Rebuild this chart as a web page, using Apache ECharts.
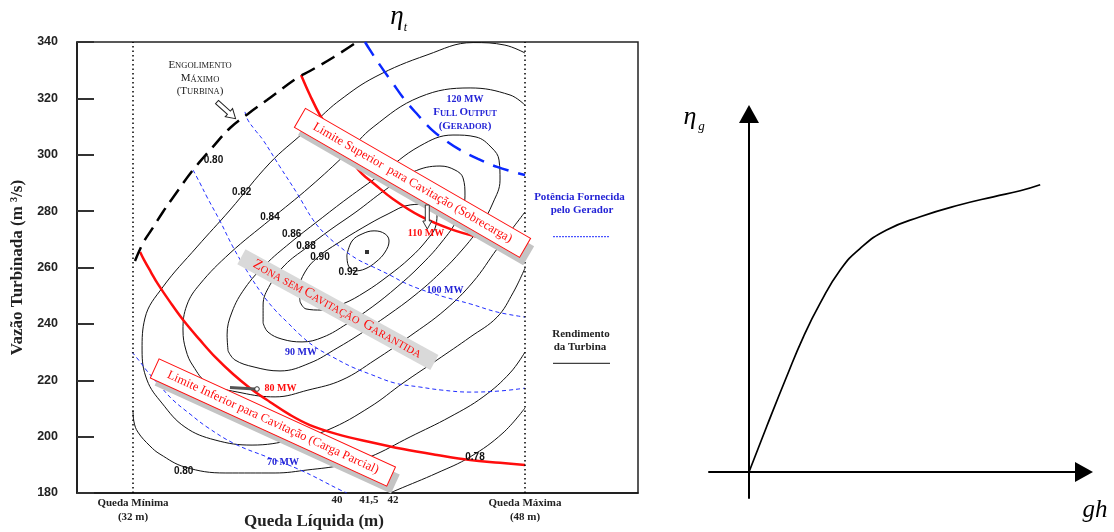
<!DOCTYPE html>
<html>
<head>
<meta charset="utf-8">
<title>Diagrama de colina</title>
<script src="https://cdn.jsdelivr.net/npm/echarts@6.0.0/dist/echarts.min.js"></script>
<style>
html,body{margin:0;padding:0;background:#ffffff;}
#chart{width:1114px;height:532px;}
</style>
</head>
<body>
<div id="chart"></div>
<script>
// ---------------- DATA (Queda Líquida H [m], Vazão Turbinada Q [m3/s]) ----------------
const eff92 = [[40.73,264.4],[40.94,269.4],[41.35,271.9],[41.84,273.0],[42.29,271.9],[42.45,269.4],[42.29,265.5],[41.92,262.0],[41.47,259.5],[41.06,258.8],[40.78,260.9],[40.73,264.4]];
const eff90 = [[38.82,247.8],[38.78,252.0],[39.02,258.4],[39.55,263.7],[40.37,268.7],[41.35,274.0],[42.41,279.0],[43.31,282.2],[44.04,282.5],[44.41,279.7],[44.37,275.1],[44.0,269.8],[43.31,263.4],[42.41,257.0],[41.47,251.3],[40.57,247.1],[39.71,244.9],[39.06,245.3],[38.82,247.8]];
const eff88 = [[37.31,240.3],[37.31,246.7],[37.59,253.8],[38.2,260.9],[39.06,266.9],[40.04,273.3],[41.1,279.7],[42.29,287.5],[43.43,293.9],[44.53,296.0],[45.14,294.6],[45.47,291.8],[45.55,285.4],[45.27,277.6],[44.57,268.7],[43.71,260.5],[42.78,253.1],[41.76,246.0],[40.73,240.0],[39.76,235.3],[38.9,233.6],[38.08,234.6],[37.51,237.1],[37.31,240.3]];
const eff86 = [[35.88,230.4],[35.84,236.1],[36.04,244.2],[36.57,252.7],[37.39,260.9],[38.41,268.7],[39.55,276.5],[40.78,284.7],[42.08,292.8],[43.71,303.1],[45.06,307.0],[46.0,306.3],[46.65,302.4],[46.94,298.1],[46.98,291.0],[46.69,282.9],[46.16,274.4],[45.43,266.2],[44.53,258.0],[43.51,250.2],[42.41,243.1],[41.27,236.4],[40.33,231.4],[39.22,226.1],[38.0,223.3],[36.94,224.7],[36.16,227.2],[35.88,230.4]];
const eff84 = [[48.0,317.6],[47.39,321.2],[45.76,323.7],[43.71,320.5],[41.8,309.8],[40.73,300.6],[39.22,288.6],[37.59,276.9],[35.96,265.1],[34.73,254.1],[34.2,246.7],[34.04,237.8],[34.16,230.7],[34.45,225.1],[35.06,219.0],[36.45,215.5],[37.8,214.1],[39.14,216.5],[40.53,220.1],[41.88,227.2],[43.31,235.7],[44.73,244.9],[45.88,254.9],[46.86,266.6],[48.0,279.7]];
const eff82 = [[48.0,336.1],[47.18,338.9],[45.88,339.8],[44.0,335.4],[41.88,327.6],[40.45,319.4],[39.51,312.3],[38.94,307.7],[37.59,297.1],[35.96,280.4],[34.61,267.3],[33.22,253.1],[32.49,242.1],[32.37,230.7],[32.57,220.1],[33.18,211.9],[34.12,203.4],[35.35,198.8],[36.86,197.0],[38.49,198.8],[39.96,202.4],[41.67,210.5],[43.02,219.0],[44.41,227.2],[45.76,235.3],[46.86,242.4],[47.51,251.0],[48.0,259.8]];
const eff80 = [[32.0,209.4],[32.04,205.2],[32.2,201.6],[32.69,196.7],[33.1,193.8],[34.12,189.2],[35.76,187.1],[37.8,187.1],[39.14,188.2],[40.53,189.9],[41.67,192.8],[43.31,199.9],[44.94,207.0],[46.29,214.1],[47.39,222.6],[48.0,230.0]];
const eff78 = [[42.49,180.0],[42.78,181.1],[44.41,187.1],[45.76,192.8],[47.1,201.3],[48.0,210.2]];

const p70  = [[31.96,230.0],[32.29,226.5],[32.57,223.3],[33.1,218.0],[33.63,213.0],[34.33,208.0],[35.02,203.4],[36.16,197.4],[37.47,192.8],[38.82,188.2],[40.45,181.1],[40.73,180.0]];
const p80  = [[32.29,265.5],[32.45,262.7],[32.73,258.4],[33.02,254.1],[33.51,247.8],[34.08,241.0],[34.73,234.3],[35.39,227.9],[36.08,222.2],[36.78,217.2],[37.59,212.3],[38.41,207.7],[39.22,204.1],[40.33,200.9],[41.67,198.1],[43.02,195.6],[44.41,193.5],[45.76,191.7],[46.98,190.7],[48.0,189.9]];
const p90  = [[34.45,294.6],[34.73,290.0],[35.02,285.0],[35.55,276.5],[36.08,267.3],[36.65,258.8],[37.27,250.6],[37.8,244.9],[38.33,240.3],[38.82,236.1],[39.43,231.8],[40.16,228.2],[40.94,224.7],[41.67,222.2],[42.69,219.0],[43.71,217.6],[44.61,216.5],[45.76,215.8],[46.98,216.2],[48.0,217.2]];
const p100 = [[36.57,315.2],[36.69,312.3],[36.98,308.8],[37.31,305.2],[38.0,295.7],[38.69,286.4],[39.35,276.9],[39.84,271.9],[40.45,267.3],[41.14,263.0],[41.8,260.2],[42.49,257.3],[43.1,254.5],[43.92,251.7],[44.73,249.5],[45.76,247.1],[46.86,244.2],[48.0,242.4]];
const p110 = [[38.86,328.3],[39.22,321.2],[39.63,314.1],[40.08,308.4],[40.53,302.7],[40.98,297.1],[41.35,293.2],[41.8,290.0],[42.61,284.3],[43.71,278.3],[44.94,273.7],[46.08,270.8]];
const p120 = [[41.47,340.0],[41.67,337.2],[42.08,331.8],[42.57,325.8],[43.1,319.4],[43.63,314.1],[44.2,308.8],[44.78,304.9],[45.35,301.7],[46.08,298.5],[46.86,295.7],[48.0,292.8]];
const engolimento = [[32.08,262.3],[32.41,268.7],[32.78,273.7],[33.22,279.7],[33.59,284.3],[34.45,294.6],[35.22,302.4],[35.96,309.5],[36.69,314.5],[37.47,319.4],[38.69,327.2],[39.22,329.7],[40.2,334.7],[41.14,340.0]];
const optimumPoint = [[41.55,265.5]];
const quedaLimits = [32, 48];

const xTickValues = [32, 40.33, 41.63, 42.61, 48];
const xTickLabels = ['Queda Mínima\n(32 m)', '40', '41,5', '42', 'Queda Máxima\n(48 m)'];

// generator efficiency curve (schematic units)
const etaG = [[0,0],[0.44,1.13],[0.94,2.38],[1.36,3.38],[1.78,4.22],[2.28,5.05],[2.78,5.59],[3.44,6.05],[4.28,6.38],[5.28,6.68],[6.11,6.88],[6.78,7.03],[7.28,7.18]];

// ---------------- CHART ----------------
const chart = echarts.init(document.getElementById('chart'), null, {renderer:'canvas'});
const SERIF = '"Liberation Serif", "Times New Roman", serif';
const SANS = '"Liberation Sans", Arial, sans-serif';
const BLUE = '#1f2cff';
const BLUE_T = '#2424d6';
const RED = '#ff0d0d';

function contour(data){ return {type:'line', data:data, xAxisIndex:0, yAxisIndex:0, symbol:'none', smooth:0.4, silent:true, lineStyle:{color:'#111', width:1}, z:2}; }
function power(data){ return {type:'line', data:data, xAxisIndex:0, yAxisIndex:0, symbol:'none', smooth:0.4, silent:true, lineStyle:{color:BLUE, width:1, type:[4,3]}, z:3}; }

function txt(x, y, text, font, fill, z){
  return {type:'text', x:x, y:y, silent:true, z:z||110, style:{text:text, font:font, fill:fill, align:'center', verticalAlign:'middle'}};
}
function richTxt(x, y, text, big, small, fill, rot){
  return {type:'text', x:x, y:y, rotation:rot||0, silent:true, z:112, style:{text:text, fill:fill, align:'center', verticalAlign:'middle',
    rich:{B:{font:big, fill:fill, verticalAlign:'bottom'}, S:{font:small, fill:fill, verticalAlign:'bottom'}}}};
}
function box(cx, cy, deg, w, h, text){
  const r = -deg*Math.PI/180;
  return {type:'group', x:cx, y:cy, rotation:r, silent:true, z:90, children:[
    {type:'rect', z:90, shape:{x:-w/2+7, y:-h/2+5, width:w, height:h}, style:{fill:'#c4c4c4'}},
    {type:'rect', z:91, shape:{x:-w/2, y:-h/2, width:w, height:h}, style:{fill:'#ffffff', stroke:RED, lineWidth:1}},
    {type:'text', z:92, x:0, y:0, style:{text:text, font:'12.5px ' + SERIF, fill:RED, align:'center', verticalAlign:'middle'}}
  ]};
}

const contourLabelFont = 'bold 10px ' + SANS;
const graphics = [
  // titles
  txt(397, 17, 'η', 'italic 27px ' + SERIF, '#000'),
  txt(405.5, 28, 't', 'italic 12px ' + SERIF, '#000'),
  txt(690, 117, 'η', 'italic 26px ' + SERIF, '#000'),
  txt(701.5, 126.6, 'g', 'italic 13px ' + SERIF, '#000'),
  txt(1095, 510.6, 'gh', 'italic 25px ' + SERIF, '#000'),
  txt(314, 521.7, 'Queda Líquida (m)', 'bold 17px ' + SERIF, '#222'),
  // ZONA band
  {type:'group', x:337.9, y:309.6, rotation:-28.7*Math.PI/180, silent:true, z:90, children:[
    {type:'rect', z:90, shape:{x:-110, y:-8.5, width:220, height:17}, style:{fill:'#d9d9d9'}}
  ]},
  richTxt(337.5, 308.6, '{B|Z}{S|ONA SEM }{B|C}{S|AVITAÇÃO  }{B|G}{S|ARANTIDA}', '14px ' + SERIF, '10.5px ' + SERIF, RED, -28.7*Math.PI/180),
  // cavitation boxes
  box(412.5, 182.9, 30, 260, 22, 'Limite Superior  para Cavitação (Sobrecarga)'),
  box(272.9, 422.5, 24.6, 260, 21, 'Limite Inferior para Cavitação (Carga Parcial)'),
  // contour labels
  txt(213.5, 160.5, '0.80', contourLabelFont, '#111'),
  txt(241.7, 192.3, '0.82', contourLabelFont, '#111'),
  txt(270, 217.7, '0.84', contourLabelFont, '#111'),
  txt(291.7, 234.3, '0.86', contourLabelFont, '#111'),
  txt(306, 246.7, '0.88', contourLabelFont, '#111'),
  txt(320, 257.3, '0.90', contourLabelFont, '#111'),
  txt(348.3, 272.5, '0.92', contourLabelFont, '#111'),
  txt(183.7, 471.7, '0.80', contourLabelFont, '#111'),
  txt(475, 457.7, '0.78', contourLabelFont, '#111'),
  // power labels
  txt(301, 352, '90 MW', 'bold 10px ' + SERIF, BLUE_T),
  txt(445, 290, '100 MW', 'bold 10px ' + SERIF, BLUE_T),
  txt(283, 462, '70 MW', 'bold 10px ' + SERIF, BLUE_T),
  txt(426, 233, '110 MW', 'bold 10px ' + SERIF, RED),
  txt(280.5, 388, '80 MW', 'bold 10px ' + SERIF, RED),
  txt(465, 99, '120 MW', 'bold 10px ' + SERIF, BLUE_T),
  richTxt(465, 112.3, '{B|F}{S|ULL }{B|O}{S|UTPUT}', 'bold 11px ' + SERIF, 'bold 8.5px ' + SERIF, BLUE_T),
  richTxt(465, 125.7, '{B|(G}{S|ERADOR}{B|)}', 'bold 11px ' + SERIF, 'bold 8.5px ' + SERIF, BLUE_T),
  // engolimento label
  richTxt(200, 65, '{B|E}{S|NGOLIMENTO}', '11px ' + SERIF, '8.5px ' + SERIF, '#222'),
  richTxt(200, 78.3, '{B|M}{S|ÁXIMO}', '11px ' + SERIF, '8.5px ' + SERIF, '#222'),
  richTxt(200, 90.7, '{B|(T}{S|URBINA}{B|)}', '11px ' + SERIF, '8.5px ' + SERIF, '#222'),
  // hollow arrow (engolimento)
  {type:'group', x:217, y:102, rotation:-42*Math.PI/180, silent:true, z:100, children:[
    {type:'polygon', z:100, shape:{points:[[0,-2.2],[16,-2.2],[16,-5.5],[25,0],[16,5.5],[16,2.2],[0,2.2]]}, style:{fill:'#fff', stroke:'#222', lineWidth:1}}
  ]},
  // hollow arrow (110 MW)
  {type:'polygon', z:100, silent:true, shape:{points:[[425.3,205],[429.3,205],[429.3,221],[431.8,221],[427.3,229],[422.8,221],[425.3,221]]}, style:{fill:'#fff', stroke:'#333', lineWidth:1}},
  // pointer (80 MW)
  {type:'line', z:100, silent:true, shape:{x1:230, y1:387.5, x2:255, y2:389}, style:{stroke:'#555', lineWidth:3}},
  {type:'circle', z:101, silent:true, shape:{cx:257, cy:389, r:2.3}, style:{fill:'#fff', stroke:'#333', lineWidth:1}},
  // legend
  txt(579.5, 196.7, 'Potência Fornecida', 'bold 11px ' + SERIF, BLUE_T),
  txt(582, 210, 'pelo Gerador', 'bold 11px ' + SERIF, BLUE_T),
  {type:'line', z:100, silent:true, shape:{x1:553, y1:236.7, x2:610, y2:236.7}, style:{stroke:BLUE, lineWidth:1, lineDash:[2,1]}},
  txt(581, 334, 'Rendimento', 'bold 11px ' + SERIF, '#222'),
  txt(580, 347.3, 'da Turbina', 'bold 11px ' + SERIF, '#222'),
  {type:'line', z:100, silent:true, shape:{x1:553, y1:363.3, x2:610, y2:363.3}, style:{stroke:'#111', lineWidth:1}}
];

function xLabel(v){
  for (let i = 0; i < xTickValues.length; i++) {
    if (Math.abs(v - xTickValues[i]) < 1e-6) {
      const t = xTickLabels[i];
      if (t.indexOf('\n') >= 0) return t.split('\n').map(function(s){ return '{q|' + s + '}'; }).join('\n');
      return '{n|' + t + '}';
    }
  }
  return '';
}

const option = {
  animation: false,
  backgroundColor: '#ffffff',
  grid: [
    {left:77, top:42, width:561, height:451, show:true, borderColor:'#222', borderWidth:1.5, backgroundColor:'transparent'},
    {left:709, top:114, width:375, height:384, show:false}
  ],
  xAxis: [
    {type:'value', gridIndex:0, min:29.714, max:52.612,
     axisLine:{show:true, onZero:false, lineStyle:{color:'#111', width:1.5}},
     axisTick:{show:false}, splitLine:{show:false},
     axisLabel:{customValues:xTickValues, formatter:xLabel, margin:3,
       rich:{q:{fontFamily:SERIF, fontWeight:'bold', fontSize:11, color:'#222', lineHeight:14},
             n:{fontFamily:SERIF, fontWeight:'bold', fontSize:11, color:'#222', lineHeight:8}}}},
    {type:'value', gridIndex:1, min:-1, max:8.375,
     axisLine:{show:true, onZero:true, symbol:['none','triangle'], symbolSize:[20,18], lineStyle:{color:'#000', width:2}},
     axisTick:{show:false}, axisLabel:{show:false}, splitLine:{show:false}}
  ],
  yAxis: [
    {type:'value', gridIndex:0, min:180, max:340, interval:20,
     name:'Vazão Turbinada (m ³/s)', nameLocation:'middle', nameGap:47,
     nameTextStyle:{fontFamily:SERIF, fontWeight:'bold', fontSize:17, color:'#222'},
     axisLine:{show:true, onZero:false, lineStyle:{color:'#111', width:1.5}},
     axisTick:{show:true, inside:true, length:17, lineStyle:{color:'#333', width:2}},
     axisLabel:{fontFamily:SANS, fontWeight:'bold', fontSize:12.5, color:'#222', margin:19},
     splitLine:{show:false}},
    {type:'value', gridIndex:1, min:-0.65, max:8.95,
     axisLine:{show:true, onZero:true, symbol:['none','triangle'], symbolSize:[20,18], lineStyle:{color:'#000', width:2}},
     axisTick:{show:false}, axisLabel:{show:false}, splitLine:{show:false}}
  ],
  series: [
    Object.assign(contour(eff80), {markLine:{silent:true, symbol:['none','none'], label:{show:false},
      lineStyle:{color:'#000', width:1.5, type:[1.5,3]},
      data: quedaLimits.map(function(v){ return {xAxis:v}; })}}),
    contour(eff92), contour(eff90), contour(eff88), contour(eff86), contour(eff84), contour(eff82), contour(eff78),
    power(p70), power(p90), power(p100),
    {type:'line', data:p80, symbol:'none', smooth:0.4, silent:true, lineStyle:{color:RED, width:2.5}, z:4},
    {type:'line', data:p110, symbol:'none', smooth:0.4, silent:true, lineStyle:{color:RED, width:2.5}, z:4},
    {type:'line', data:p120, symbol:'none', smooth:0.4, silent:true, lineStyle:{color:'#0a28ff', width:2.5, type:[16,10]}, z:4},
    {type:'line', data:engolimento, symbol:'none', smooth:0.4, silent:true, lineStyle:{color:'#000', width:2.5, type:[15,8]}, z:4},
    {type:'scatter', data:optimumPoint, symbol:'rect', symbolSize:4, itemStyle:{color:'#000'}, silent:true, z:5},
    {type:'line', data:etaG, xAxisIndex:1, yAxisIndex:1, symbol:'none', smooth:0.5, silent:true, lineStyle:{color:'#000', width:1.7}, z:4}
  ],
  graphic: graphics
};
chart.setOption(option);
</script>
</body>
</html>
